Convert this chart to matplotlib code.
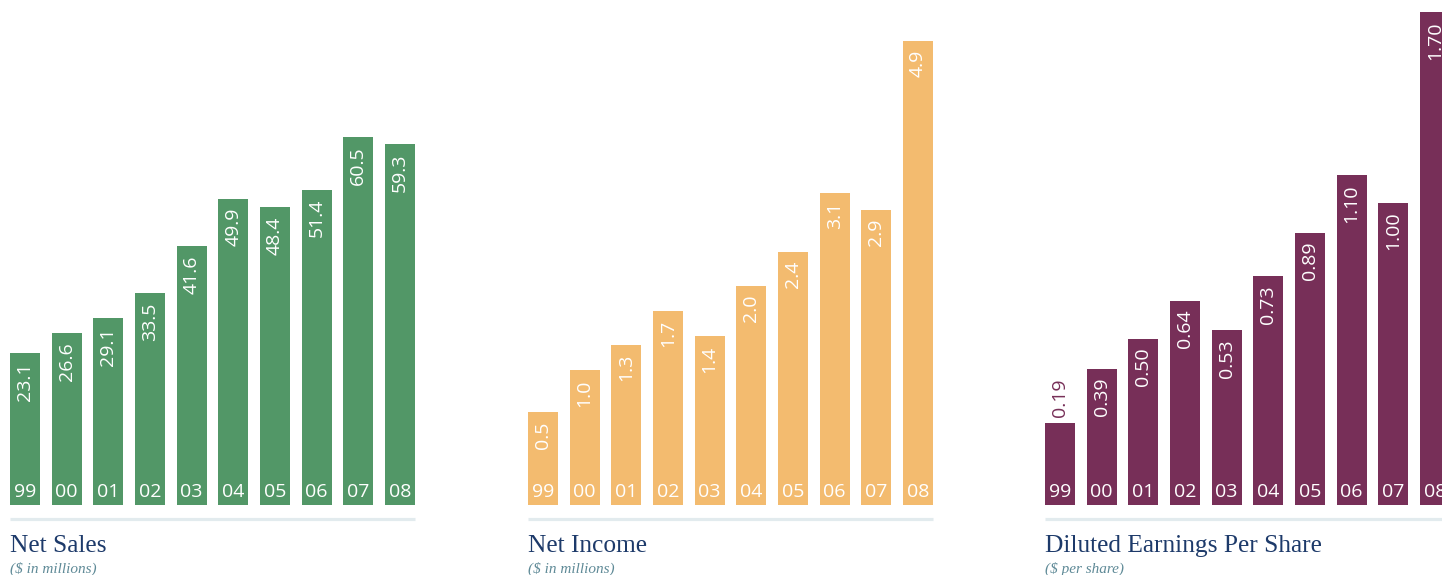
import matplotlib.pyplot as plt
from matplotlib.lines import Line2D

years = ['99', '00', '01', '02', '03', '04', '05', '06', '07', '08']

net_sales = [23.1, 26.6, 29.1, 33.5, 41.6, 49.9, 48.4, 51.4, 60.5, 59.3]
net_income = [0.5, 1.0, 1.3, 1.7, 1.4, 2.0, 2.4, 3.1, 2.9, 4.9]
eps = [0.19, 0.39, 0.50, 0.64, 0.53, 0.73, 0.89, 1.10, 1.00, 1.70]

net_sales_labels = ['23.1', '26.6', '29.1', '33.5', '41.6', '49.9', '48.4', '51.4', '60.5', '59.3']
net_income_labels = ['0.5', '1.0', '1.3', '1.7', '1.4', '2.0', '2.4', '3.1', '2.9', '4.9']
eps_labels = ['0.19', '0.39', '0.50', '0.64', '0.53', '0.73', '0.89', '1.10', '1.00', '1.70']

titles = ['Net Sales', 'Net Income', 'Diluted Earnings Per Share']
subtitles = ['($ in millions)', '($ in millions)', '($ per share)']

W, H = 1442, 575
fig = plt.figure(figsize=(W / 100, H / 100), dpi=100)

BAR_FONT = 'Open Sans'
TITLE_COLOR = '#1d3a6a'
SUB_COLOR = '#5f8a97'
RULE_COLOR = '#e2ebee'

# each panel: values, labels, colour, left edge (px), band under zero (data units),
# top of y range, and the smallest value whose label still goes inside the bar
panels = [
    (net_sales, net_sales_labels, '#529767', 10, 3.17, 84.35, 0),
    (net_income, net_income_labels, '#f3bb6f', 528, 0.592, 5.385, 0),
    (eps, eps_labels, '#772f58', 1045, 0.110, 1.745, 0.25),
]

base_px = 504.5
panel_w = 405

for k, (vals, labs, color, left, band, top, inside_min) in enumerate(panels):
    ax = fig.add_axes([left / W, (H - base_px) / H, panel_w / W, base_px / H])
    x = range(len(vals))
    heights = [v + band for v in vals]
    ax.bar(x, heights, bottom=-band, width=0.72, color=color, linewidth=0)
    ax.set_xlim(-0.36, 9.36)
    ax.set_ylim(-band, top)
    ax.axis('off')

    for i, (v, lab) in enumerate(zip(vals, labs)):
        if v >= inside_min:
            ax.annotate(lab, xy=(i, v), xytext=(0, -6.5), textcoords='offset points',
                        rotation=90, ha='center', va='top', color='white',
                        fontsize=14, family=BAR_FONT, annotation_clip=False)
        else:
            ax.annotate(lab, xy=(i, v), xytext=(0, 4.5), textcoords='offset points',
                        rotation=90, ha='center', va='bottom', color=color,
                        fontsize=14, family=BAR_FONT, annotation_clip=False)
        ax.annotate(years[i], xy=(i, -band), xytext=(0, 5.4), textcoords='offset points',
                    ha='center', va='baseline', color='white',
                    fontsize=14, family=BAR_FONT, annotation_clip=False)

    # light rule under the bars
    y_rule = (H - 518.7) / H
    fig.add_artist(Line2D([left / W, (left + panel_w) / W], [y_rule, y_rule],
                          color=RULE_COLOR, linewidth=2.3, solid_capstyle='butt'))

    fig.text(left / W, (H - 552) / H, titles[k], family='Liberation Serif',
             fontsize=18.3, color=TITLE_COLOR, va='baseline', ha='left')
    fig.text(left / W, (H - 572.5) / H, subtitles[k], family='Liberation Serif',
             style='italic', fontsize=11, color=SUB_COLOR, va='baseline', ha='left')

fig.savefig('out.png', dpi=100, facecolor='white')
